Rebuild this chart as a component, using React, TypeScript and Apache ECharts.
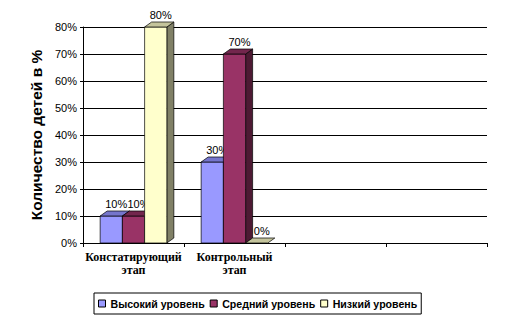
import React, { useEffect, useRef } from "react";
import * as echarts from "echarts";

const categories = ["Констатирующий\nэтап", "Контрольный\nэтап", "", ""];
const seriesNames = ["Высокий уровень", "Средний уровень", "Низкий уровень"];
const highValues = [10, 30];
const mediumValues = [10, 70];
const lowValues = [80, 0];
const yTicks = { min: 0, max: 80, interval: 10 };

const palettes = [
  { front: "#9999FF", top: "#7575CC", side: "#4D4D80" },
  { front: "#993366", top: "#73264D", side: "#4D1A33" },
  { front: "#FFFFCC", top: "#C4C49C", side: "#808066" },
];

const SANS = "Liberation Sans";
const SERIF = "Liberation Serif";

export default function App() {
  const ref = useRef<HTMLDivElement>(null);
  useEffect(() => {
    if (!ref.current) return;
    const chart = echarts.init(ref.current, null, { renderer: "svg" });
    const allValues = [highValues, mediumValues, lowValues];

    const renderItem = (params: any, api: any) => {
      const cat = api.value(0);
      const val = api.value(1);
      const base = api.coord([cat, 0]);
      const top = api.coord([cat, val]);
      const band = api.size([1, 0])[0];
      const w = band * 0.22;
      const si = params.seriesIndex;
      const x0 = base[0] - 1.5 * w + si * w;
      const x1 = x0 + w;
      const y0 = base[1];
      const yT = top[1];
      const dx = 7;
      const dy = 5;
      const p = palettes[si];
      const stroke = { stroke: "#000", lineWidth: 0.7 };
      const children: any[] = [];
      if (y0 - yT > 0.1) {
        children.push({
          type: "polygon",
          shape: { points: [[x1, yT], [x1 + dx, yT - dy], [x1 + dx, y0 - dy], [x1, y0]] },
          style: { fill: p.side, ...stroke },
        });
        children.push({
          type: "rect",
          shape: { x: x0, y: yT, width: w, height: y0 - yT },
          style: { fill: p.front, ...stroke },
        });
      }
      children.push({
        type: "polygon",
        shape: { points: [[x0, yT], [x0 + dx, yT - dy], [x1 + dx, yT - dy], [x1, yT]] },
        style: { fill: p.top, ...stroke },
      });
      children.push({
        type: "text",
        z2: 10,
        style: {
          text: val + "%",
          x: x0 + w / 2 + 5,
          y: yT - 7,
          align: "center",
          verticalAlign: "bottom",
          fontSize: 11,
          fontFamily: SANS,
          fill: "#000",
        },
      });
      return { type: "group", children };
    };

    chart.setOption({
      animation: false,
      backgroundColor: "#fff",
      grid: { left: 83, top: 27, width: 404, height: 216, containLabel: false },
      legend: {
        left: 94,
        top: 293,
        padding: [5, 4, 5, 4],
        borderColor: "#000",
        borderWidth: 1,
        icon: "rect",
        itemWidth: 7,
        itemHeight: 7,
        itemGap: 5,
        textStyle: { fontSize: 10.6, fontWeight: "bold", fontFamily: SANS, color: "#000" },
        data: seriesNames.map((n, i) => ({
          name: n,
          itemStyle: { color: palettes[i].front, borderColor: "#000", borderWidth: 1 },
        })),
      },
      xAxis: {
        type: "category",
        data: categories,
        boundaryGap: true,
        axisLine: { show: true, lineStyle: { color: "#000", width: 1 } },
        axisTick: { show: true, alignWithLabel: false, length: 4, lineStyle: { color: "#000" } },
        axisLabel: {
          interval: 0,
          margin: 7,
          color: "#000",
          fontSize: 12,
          fontWeight: "bold",
          fontFamily: SERIF,
          lineHeight: 13,
        },
        splitLine: { show: false },
      },
      yAxis: {
        type: "value",
        min: yTicks.min,
        max: yTicks.max,
        interval: yTicks.interval,
        name: "Количество детей в %",
        nameLocation: "middle",
        nameRotate: 90,
        nameGap: 37,
        nameTextStyle: { fontSize: 15.5, fontWeight: "bold", fontFamily: SANS, color: "#000" },
        axisLine: { show: true, lineStyle: { color: "#000", width: 1 } },
        axisTick: { show: true, length: 3, lineStyle: { color: "#000" } },
        axisLabel: { formatter: "{value}%", fontSize: 11, fontFamily: SANS, color: "#000", margin: 6 },
        splitLine: { show: true, lineStyle: { color: "#000", width: 1 } },
      },
      series: allValues.map((vals, i) => ({
        name: seriesNames[i],
        type: "custom",
        renderItem,
        itemStyle: { color: palettes[i].front },
        encode: { x: 0, y: 1 },
        data: vals.map((v, idx) => [idx, v]),
        z: 2 + i,
      })),
    });
    return () => chart.dispose();
  }, []);
  return (
    <div
      ref={ref}
      style={{ position: "absolute", left: 0, top: 0, width: 529, height: 327 }}
    />
  );
}
